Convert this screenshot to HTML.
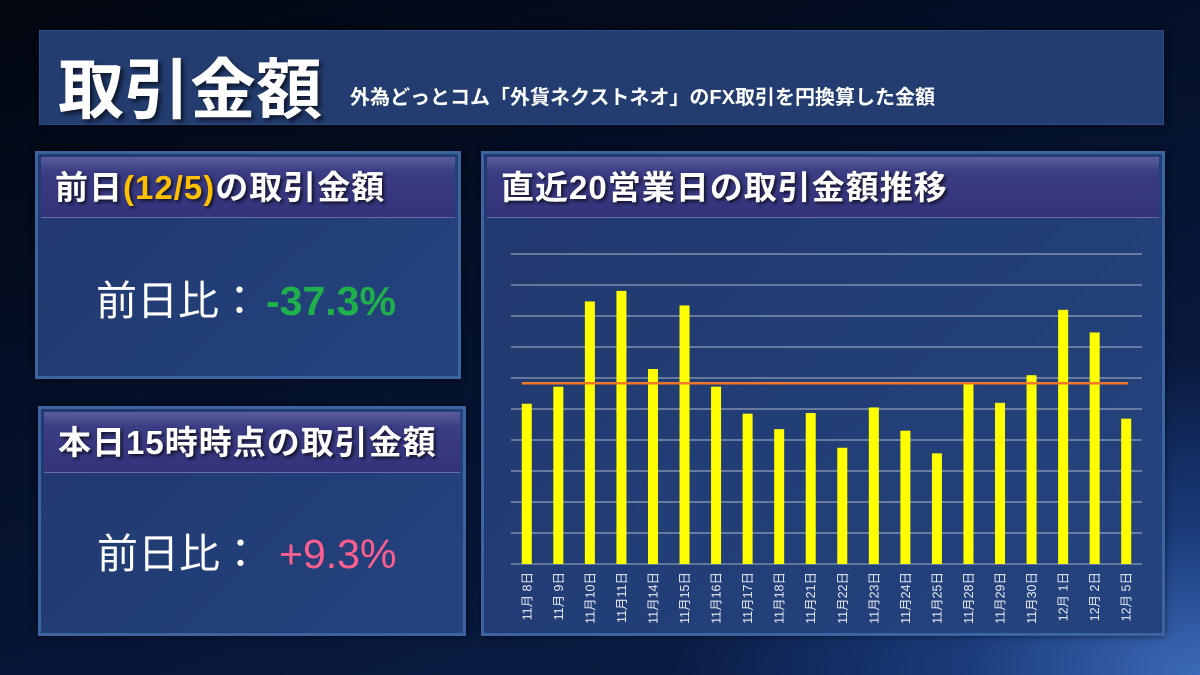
<!DOCTYPE html>
<html><head><meta charset="utf-8">
<style>
*{margin:0;padding:0;box-sizing:border-box}
body{width:1200px;height:675px;overflow:hidden;position:relative;font-family:"Liberation Sans","Noto Sans CJK JP",sans-serif;
background:radial-gradient(ellipse 700px 420px at 1200px 675px,#3c6ab8 0%,#1a3a78 35%,rgba(10,25,60,0) 75%),linear-gradient(160deg,#020610 0%,#061432 55%,#0c2250 100%);}
.box{position:absolute;background:linear-gradient(135deg,#21396e,#24437e);border:3px solid #3c64a0;box-shadow:0 0 6px rgba(0,0,0,.6)}
.hd{position:absolute;left:3px;right:3px;top:3px;height:61px;background:linear-gradient(180deg,#5a5e9c 0%,#3a3c84 25%,#33337a 100%);border-bottom:1px solid #6a6ab0;color:#fff;font-weight:bold;font-size:33px;line-height:61px;padding-left:14px;text-shadow:2px 2px 3px rgba(0,0,0,.7);letter-spacing:1px;white-space:nowrap}
.val{position:absolute;font-size:41px;color:#fff;white-space:nowrap}
</style></head><body>
<div class="box" style="left:39px;top:30px;width:1125px;height:95px;border:1px solid #2d4c86;background:#233d70">
  <span style="position:absolute;left:18px;top:6px;font-size:66px;font-weight:bold;color:#fff;text-shadow:3px 3px 4px rgba(0,0,0,.6)">取引金額</span>
  <span style="position:absolute;left:310px;top:50px;font-size:20px;font-weight:bold;color:#fff">外為どっとコム「外貨ネクストネオ」のFX取引を円換算した金額</span>
</div>

<div class="box" style="left:35px;top:151px;width:426px;height:228px">
  <div class="hd">前日<span style="color:#ffc000">(12/5)</span>の取引金額</div>
  <div class="val" style="left:58px;top:113px">前日比：<span style="color:#1fb04c;font-weight:bold;margin-left:6px">-37.3%</span></div>
</div>

<div class="box" style="left:38px;top:406px;width:428px;height:230px">
  <div class="hd">本日15時時点の取引金額</div>
  <div class="val" style="left:56px;top:111px">前日比：<span style="color:#ff5f8f;margin-left:18px">+9.3%</span></div>
</div>

<div class="box" style="left:481px;top:151px;width:684px;height:485px">
  <div class="hd">直近20営業日の取引金額推移</div>
</div>

<svg id="chart" width="1200" height="675" style="position:absolute;left:0;top:0"></svg>
<script>
const categories=["11月 8日","11月 9日","11月10日","11月11日","11月14日","11月15日","11月16日","11月17日","11月18日","11月21日","11月22日","11月23日","11月24日","11月25日","11月28日","11月29日","11月30日","12月 1日","12月 2日","12月 5日"];
const values=[5.17,5.72,8.47,8.81,6.29,8.34,5.72,4.85,4.35,4.87,3.75,5.05,4.30,3.57,5.81,5.20,6.09,8.20,7.47,4.69];
const averageValue=[5.83];
const gridTicks=[0,1,2,3,4,5,6,7,8,9,10];
const NS="http://www.w3.org/2000/svg";
const svg=document.getElementById('chart');
const X0=511,X1=1142,Y0=564,Y1=254,YMAX=10;
const bw=(X1-X0)/categories.length;
function xs(i){return X0+bw*(i+0.5);}
function ys(v){return Y0-(v/YMAX)*(Y0-Y1);}
function mk(t,a){const e=document.createElementNS(NS,t);for(const k in a)e.setAttribute(k,a[k]);svg.appendChild(e);return e;}
gridTicks.forEach(t=>{
  const l=mk('line',{x1:X0,x2:X1,y1:ys(t),y2:ys(t),stroke:t===0?'#b8c0d0':'#c8ccd8','stroke-width':1,opacity:0.85});
  
  
});
values.forEach((v,i)=>{
  const r=mk('rect',{x:xs(i)-5,y:ys(v),width:10,height:Y0-ys(v),fill:'#ffff00'});
  
  
});
const av=mk('line',{x1:xs(0)-5,x2:xs(categories.length-1)+2,y1:ys(averageValue[0]),y2:ys(averageValue[0]),stroke:'#f07828','stroke-width':2.5});


categories.forEach((c,i)=>{
  const t=mk('text',{x:0,y:0,transform:`translate(${xs(i)+4.5},${Y0+8}) rotate(-90)`,'text-anchor':'end',fill:'#e8ecf4','font-size':12.5,'font-family':'"Liberation Sans","Noto Sans CJK JP",sans-serif'});
  t.textContent=c;
  
  
});
</script>
</body></html>
